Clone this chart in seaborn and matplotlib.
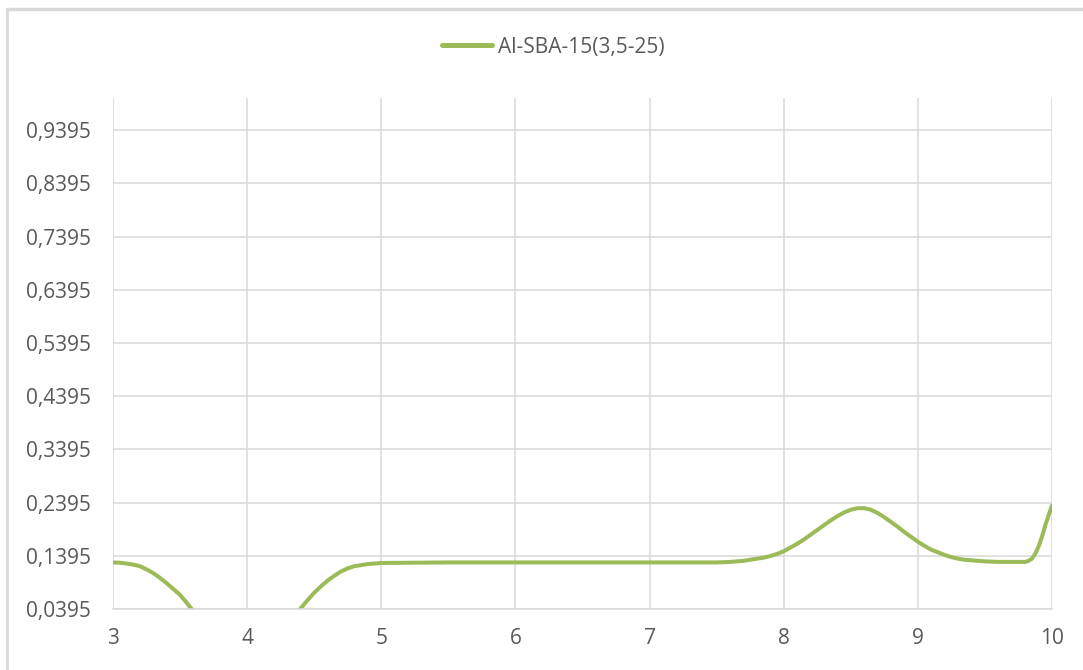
import matplotlib
matplotlib.use("Agg")
import matplotlib.pyplot as plt
from matplotlib.lines import Line2D
import pandas as pd
import seaborn as sns

# Pore-size distribution readings
series_name = "Al-SBA-15(3,5-25)"
x_vals = [3.00, 3.05, 3.10, 3.15, 3.20, 3.25, 3.30, 3.35, 3.40, 3.45,
          3.50, 3.55, 3.60, 3.65, 3.70, 3.80, 3.90, 4.00, 4.10, 4.20,
          4.30, 4.35, 4.40, 4.45, 4.50, 4.55, 4.60, 4.65, 4.70, 4.75,
          4.80, 4.85, 4.90, 4.95, 5.00, 5.50, 6.00, 6.50, 7.00, 7.50,
          7.60, 7.70, 7.80, 7.85, 7.90, 7.95, 8.00, 8.05, 8.10, 8.15,
          8.20, 8.25, 8.30, 8.35, 8.40, 8.45, 8.50, 8.55, 8.60, 8.65,
          8.70, 8.75, 8.80, 8.85, 8.90, 8.95, 9.00, 9.05, 9.10, 9.15,
          9.20, 9.25, 9.30, 9.35, 9.40, 9.50, 9.60, 9.70, 9.80, 9.825,
          9.85, 9.875, 9.90, 9.925, 9.95, 9.975, 10.00]
y_vals = [0.127, 0.1265, 0.125, 0.123, 0.120, 0.114, 0.107, 0.098, 0.088, 0.077,
          0.066, 0.051, 0.035, 0.019, 0.004, -0.022, -0.038, -0.043, -0.038, -0.022,
          0.007, 0.024, 0.041, 0.056, 0.070, 0.082, 0.093, 0.102, 0.110, 0.116,
          0.120, 0.122, 0.124, 0.125, 0.126, 0.127, 0.127, 0.127, 0.127, 0.127,
          0.128, 0.130, 0.134, 0.136, 0.139, 0.143, 0.148, 0.155, 0.162, 0.170,
          0.179, 0.188, 0.197, 0.206, 0.214, 0.221, 0.226, 0.229, 0.229, 0.226,
          0.220, 0.212, 0.203, 0.194, 0.184, 0.175, 0.166, 0.158, 0.151, 0.146,
          0.141, 0.137, 0.134, 0.132, 0.131, 0.129, 0.128, 0.128, 0.128, 0.130,
          0.134, 0.143, 0.157, 0.175, 0.197, 0.216, 0.234]

x_ticks = [3, 4, 5, 6, 7, 8, 9, 10]
y_ticks = [0.0395, 0.1395, 0.2395, 0.3395, 0.4395, 0.5395, 0.6395, 0.7395, 0.8395, 0.9395]
y_tick_labels = ["0,0395", "0,1395", "0,2395", "0,3395", "0,4395",
                 "0,5395", "0,6395", "0,7395", "0,8395", "0,9395"]

df = pd.DataFrame({"x": x_vals, "y": y_vals, "series": series_name})

sns.set_theme(style="white")
plt.rcParams["font.family"] = ["Open Sans", "DejaVu Sans"]

W, H = 1083, 670
fig = plt.figure(figsize=(W / 100, H / 100), dpi=100)
ax = fig.add_axes([113 / W, 1 - 609 / H, (1052 - 113) / W, (609 - 98) / H])

green = "#9BBB59"
grid_c = "#D9D9D9"
text_c = "#595959"

sns.lineplot(data=df, x="x", y="y", hue="series", palette=[green],
             linewidth=2.9, ax=ax, legend=False, sort=False,
             solid_joinstyle="round", solid_capstyle="round")

ax.set_xlim(3, 10)
ax.set_ylim(0.0395, 1.0)
ax.set_xticks(x_ticks)
ax.set_xticklabels([str(t) for t in x_ticks])
ax.set_yticks(y_ticks)
ax.set_yticklabels(y_tick_labels)
ax.grid(True, color=grid_c, linewidth=1.1)
ax.set_axisbelow(True)
for side in ["top", "left", "right"]:
    ax.spines[side].set_visible(False)
ax.spines["bottom"].set_color(grid_c)
ax.spines["bottom"].set_linewidth(1.1)
ax.tick_params(axis="both", length=0, labelsize=15, colors=text_c)
ax.tick_params(axis="y", pad=16)
ax.tick_params(axis="x", pad=14)
ax.set_xlabel("")
ax.set_ylabel("")

# Legend at top centre
handle = Line2D([], [], color=green, linewidth=3.6)
fig.legend([handle], [series_name], loc="center", bbox_to_anchor=(553 / W, 1 - 47 / H),
           frameon=False, fontsize=15, labelcolor=text_c, handlelength=2.4,
           handletextpad=0.3)

# Chart-area border (top and left edges)
fig.add_artist(Line2D([7 / W, 1], [1 - 9 / H, 1 - 9 / H], transform=fig.transFigure,
                      color="#D9D9D9", linewidth=2.5))
fig.add_artist(Line2D([7 / W, 7 / W], [0, 1 - 9 / H], transform=fig.transFigure,
                      color="#D9D9D9", linewidth=2.0))

fig.savefig("out.png", dpi=100, facecolor="white")
